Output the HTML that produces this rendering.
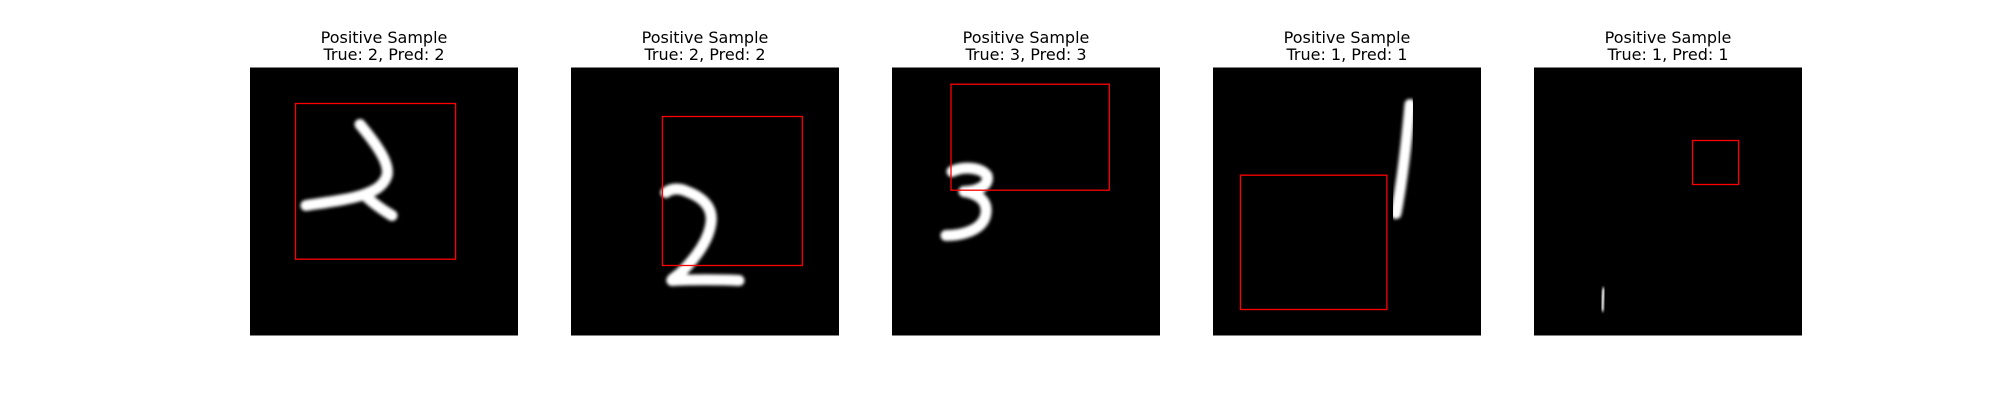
<!DOCTYPE html>
<html><head><meta charset="utf-8"><style>
html,body{margin:0;padding:0;background:#fff;}
svg{display:block;}
text{font-family:"DejaVu Sans","Liberation Sans",sans-serif;font-size:16px;fill:#000;}
</style></head><body>
<svg id="fig" width="2000" height="400" viewBox="0 0 2000 400">
<defs><filter id="blur" x="-20%" y="-20%" width="140%" height="140%"><feGaussianBlur stdDeviation="1.6"/></filter></defs>
</svg>
<script>
const titles = ["Positive Sample","Positive Sample","Positive Sample","Positive Sample","Positive Sample"];
const trueLabels = [2,2,3,1,1];
const predLabels = [2,2,3,1,1];
// bounding boxes [x0,y0,x1,y1] in panel pixel units (panel 268px)
const boxes = [[45.5,36,205.6,191.7],[91.4,49,231.3,198],[59,16.7,217.3,122.7],[27.4,107.7,173.9,242],[158.5,73,204.6,117]];
// digit strokes (panel px)
const strokes = [
 {d:"M110,57 C125,75 140,95 137,108 C133,120 122,124 114,127 M114,127 C100,132 75,135 56,138 M114,127 C122,135 132,142 142,148", w:11},
 {d:"M95,125 C100,121 108,120 116,124 C132,130 142,140 140,155 C138,172 125,190 110,205 C104,210 100,212 101,213 C120,212 150,212 168,213", w:11},
 {d:"M60,104 C70,99 88,99 95,108 C98,118 85,124 72,124 C86,126 98,134 93,150 C88,163 70,168 54,168", w:11},
 {d:"M197,37 C194,70 190,110 183,146", w:11},
 {d:"M70,222 C69,229 68,235 68,242", w:4}
];
const panelLefts = [250,571,892,1213,1534];
const panelTop = 67.5, panelSize = 268;
const svgEl = document.getElementById('fig');
const NS = "http://www.w3.org/2000/svg";
for (let i=0;i<5;i++){
  const g = document.createElementNS(NS,'g');
  
  
  g.setAttribute('transform','translate('+panelLefts[i]+','+panelTop+')');
  const bg = document.createElementNS(NS,'rect');
  
  
  bg.setAttribute('width',panelSize);bg.setAttribute('height',panelSize);bg.setAttribute('fill','#000');
  g.appendChild(bg);
  const p = document.createElementNS(NS,'path');
  
  
  p.setAttribute('d',strokes[i].d);p.setAttribute('fill','none');p.setAttribute('stroke','#fff');
  p.setAttribute('stroke-width',strokes[i].w);p.setAttribute('stroke-linecap','round');p.setAttribute('stroke-linejoin','round');
  p.setAttribute('filter','url(#blur)');
  g.appendChild(p);
  const b = boxes[i];
  const r = document.createElementNS(NS,'rect');
  
  
  r.setAttribute('x',b[0]);r.setAttribute('y',b[1]);r.setAttribute('width',b[2]-b[0]);r.setAttribute('height',b[3]-b[1]);
  r.setAttribute('fill','none');r.setAttribute('stroke','#ff0000');r.setAttribute('stroke-width','1.3');
  g.appendChild(r);
  svgEl.appendChild(g);
  const cx = panelLefts[i]+panelSize/2;
  const t1 = document.createElementNS(NS,'text');
  
  
  t1.setAttribute('x',cx);t1.setAttribute('y',43);t1.setAttribute('text-anchor','middle');
  t1.textContent = titles[i];
  svgEl.appendChild(t1);
  const t2 = document.createElementNS(NS,'text');
  
  
  t2.setAttribute('x',cx);t2.setAttribute('y',60);t2.setAttribute('text-anchor','middle');
  t2.textContent = 'True: '+trueLabels[i]+', Pred: '+predLabels[i];
  svgEl.appendChild(t2);
}
</script>
</body></html>
